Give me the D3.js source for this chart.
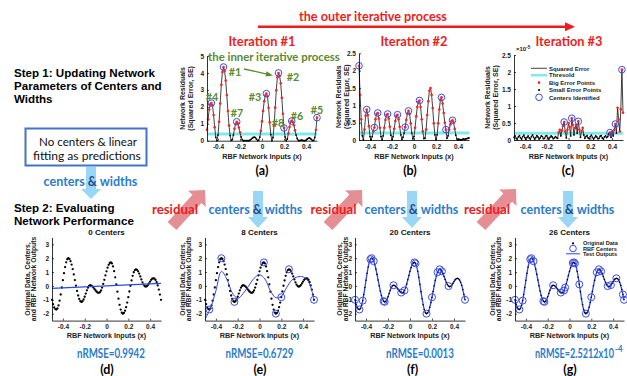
<!DOCTYPE html>
<html>
<head>
<meta charset="utf-8">
<script src="https://cdn.jsdelivr.net/npm/d3@7"></script>
<style>
  body { margin: 0; background: #fff; }
  svg { display: block; }
</style>
</head>
<body>
<svg id="fig" width="627" height="376"></svg>
<script>
// ---------- data ----------
// network inputs: x = -0.50 ... 0.50, step 0.01
const xGrid = d3.range(-50, 51).map(i => i / 100);

// original data (target outputs)
const originalData = [
  -1.00,-1.32,-1.55,-1.67,-1.70,-1.625,-1.406,-1.061,-0.619,-0.113,
  0.413,0.919,1.361,1.706,1.925,2.00,1.946,1.789,1.539,1.213,
  0.833,0.425,0.017,-0.363,-0.689,-0.939,-1.096,-1.15,-1.104,-0.974,
  -0.780,-0.55,-0.320,-0.126,0.004,0.05,0.029,-0.031,-0.120,-0.225,
  -0.330,-0.419,-0.479,-0.50,-0.455,-0.325,-0.120,0.143,0.444,0.756,
  1.057,1.320,1.525,1.655,1.70,1.625,1.406,1.061,0.619,0.113,
  -0.413,-0.919,-1.361,-1.706,-1.925,-2.00,-1.946,-1.786,-1.532,-1.20,
  -0.814,-0.40,0.014,0.40,0.732,0.986,1.146,1.20,1.162,1.054,
  0.888,0.684,0.467,0.263,0.096,-0.012,-0.05,-0.020,0.063,0.183,
  0.317,0.437,0.520,0.55,0.52,0.43,0.27,0.04,-0.26,-0.62,
  -1.00
];

// squared error, iteration #1 (linear fit, no centers)
const seIter1 = [
  0.64,1.26,1.84,2.15,2.22,2.09,1.51,0.79,0.20,0.00,
  0.33,1.12,2.20,3.30,4.05,4.35,4.12,3.55,2.70,1.75,
  0.90,0.30,0.02,0.06,0.34,0.70,0.99,1.12,1.02,0.78,
  0.48,0.22,0.06,0.00,0.01,0.01,0.01,0.00,0.00,0.03,
  0.08,0.14,0.19,0.21,0.18,0.09,0.01,0.03,0.21,0.59,
  1.14,1.76,2.33,2.66,2.78,2.61,1.94,1.09,0.36,0.01,
  0.19,0.90,1.95,2.98,3.75,4.00,3.82,3.39,2.53,1.59,
  0.75,0.22,0.00,0.10,0.42,0.81,1.12,1.16,1.10,0.91,
  0.61,0.33,0.13,0.02,0.00,0.02,0.03,0.02,0.01,0.00,
  0.03,0.09,0.14,0.16,0.13,0.07,0.01,0.02,0.19,0.63,
  1.36
];

// squared error, iteration #2 (8 centers)
const seIter2 = [
  2.14,1.30,0.60,0.12,0.00,0.30,0.70,0.88,0.72,0.40,
  0.10,0.00,0.10,0.25,0.36,0.60,0.75,0.78,0.62,0.35,
  0.10,0.00,0.12,0.35,0.58,0.72,0.75,0.62,0.38,0.14,
  0.01,0.10,0.32,0.55,0.70,0.73,0.60,0.38,0.15,0.02,
  0.08,0.20,0.37,0.58,0.76,0.84,0.75,0.48,0.20,0.03,
  0.10,0.35,0.68,0.95,1.10,1.14,0.95,0.60,0.25,0.04,
  0.05,0.30,0.72,1.12,1.42,1.50,1.30,0.92,0.48,0.15,
  0.01,0.15,0.48,0.88,1.15,1.23,1.05,0.78,0.50,0.30,
  0.05,0.12,0.30,0.45,0.54,0.57,0.50,0.32,0.14,0.03,
  0.00,0.02,0.01,0.00,0.02,0.03,0.02,0.03,0.04,0.05,
  0.06
];

// squared error, iteration #3 (20 centers), units of 1e-5
const seIter3 = [
  0.08,0.12,0.05,0.02,0.09,0.13,0.06,0.03,0.10,0.14,
  0.07,0.02,0.08,0.12,0.06,0.03,0.10,0.15,0.08,0.02,
  0.07,0.13,0.09,0.03,0.06,0.12,0.10,0.04,0.05,0.11,
  0.13,0.07,0.03,0.08,0.12,0.09,0.04,0.06,0.10,0.07,
  0.05,0.22,0.30,0.12,0.28,0.42,0.53,0.25,0.06,0.30,
  0.50,0.38,0.12,0.64,0.45,0.15,0.35,0.45,0.20,0.55,
  0.30,0.08,0.25,0.36,0.15,0.05,0.10,0.13,0.06,0.04,
  0.10,0.14,0.08,0.03,0.07,0.12,0.09,0.04,0.05,0.11,
  0.13,0.06,0.03,0.09,0.12,0.07,0.10,0.18,0.22,0.08,
  0.25,0.12,0.30,0.47,0.20,0.95,0.60,0.25,0.90,2.07,
  0.80
];

const thresholds = [0.4, 0.2, 0.2];

// centers picked in each outer iteration
const centersIter1 = [-0.35, 0.15, 0.04, -0.46, 0.50, 0.27, -0.23, 0.20];
const centerLabels1 = ["#1", "#2", "#3", "#4", "#5", "#6", "#7", "#8"];
const centersIter2 = [-0.50, -0.43, -0.36, -0.33, -0.24, -0.15, -0.08, -0.05, 0.05, 0.25, 0.29, 0.35];
const centersIter3 = [-0.04, 0.03, 0.09, 0.38, 0.43, 0.49];

// network outputs
const linearFitX = [-0.5, 0.5];
const linearFitY = [-0.17, 0.18];
const fit8X = d3.range(-10, 11).map(i => i / 20);
const fit8Y = [-2.4,-1.6,-0.35,1.05,0.5,-0.5,-0.9,-0.55,0.0,0.55,0.8,0.5,-0.35,-0.85,-0.75,-0.1,0.45,0.65,0.65,0.3,-1.0];

const nrmseLabels = ["nRMSE=0.9942", "nRMSE=0.6729", "nRMSE=0.0013"];
const panelTitles = ["0 Centers", "8 Centers", "20 Centers", "26 Centers"];
const xTicks = [-0.4, -0.2, 0, 0.2, 0.4];

// ---------- helpers ----------
const svg = d3.select("#fig");
svg.append("rect").attr("width", 627).attr("height", 376).attr("fill", "#fff");

const SANS = "'Liberation Sans', Arial, Helvetica, sans-serif";
const CAL = "Lato, 'Open Sans', sans-serif";
const RED = "#f21b1b", GREEN = "#5a8a2e", BLUE_T = "#2a7ccc", NAVY = "#1f4e8c";
const LINE_BLUE = "#2f47e6", CYAN = "#7eeaea";

function txt(g, x, y, s, o = {}) {
  const t = g.append("text").attr("x", x).attr("y", y).text(s)
    .attr("font-family", o.family || SANS)
    .attr("font-size", o.size || 10)
    .attr("font-weight", o.weight || "bold")
    .attr("fill", o.fill || "#000")
    .attr("text-anchor", o.anchor || "start");
  if (o.rotate) t.attr("transform", `rotate(${o.rotate},${x},${y})`);
  return t;
}

// text squeezed horizontally to a given width (narrow display face)
function txtFit(g, x, y, s, width, o = {}) {
  const t = txt(g, 0, 0, s, Object.assign({}, o, { anchor: "start" }));
  if (o.build) o.build(t);
  const nat = t.node().getComputedTextLength();
  const k = width / nat;
  const x0 = o.anchor === "middle" ? x - width / 2 : x;
  t.attr("transform", `translate(${x0},${y}) scale(${k},1)`);
  return t;
}

function blockArrow(g, x0, y0, x1, y1, sw, hw, hl, fill, op) {
  const L = Math.hypot(x1 - x0, y1 - y0);
  const a = Math.atan2(y1 - y0, x1 - x0) * 180 / Math.PI;
  const pts = [[0, -sw / 2], [L - hl, -sw / 2], [L - hl, -hw / 2], [L, 0], [L - hl, hw / 2], [L - hl, sw / 2], [0, sw / 2]];
  g.append("polygon")
    .attr("points", pts.map(p => p.join(",")).join(" "))
    .attr("transform", `translate(${x0},${y0}) rotate(${a})`)
    .attr("fill", fill).attr("opacity", op);
}

const idx = x => Math.round((x + 0.5) * 100);

function styleAxis(ax) {
  ax.select(".domain").attr("stroke", "#000").attr("stroke-width", 0.8);
  ax.selectAll(".tick line").attr("stroke", "#000").attr("stroke-width", 0.7);
  ax.selectAll(".tick text").attr("font-family", SANS).attr("font-size", 6.5)
    .attr("font-weight", "bold").attr("fill", "#222");
}

function axes(g, x, y, yTicks, yFmt) {
  const ax = g.append("g").attr("transform", `translate(0,${y.range()[0]})`)
    .call(d3.axisBottom(x).tickValues(xTicks).tickFormat(d => String(d)).tickSize(-2).tickSizeOuter(0).tickPadding(4));
  styleAxis(ax);
  const ay = g.append("g").attr("transform", `translate(${x.range()[0]},0)`)
    .call(d3.axisLeft(y).tickValues(yTicks).tickFormat(yFmt || (d => String(d))).tickSize(-2).tickSizeOuter(0).tickPadding(3));
  styleAxis(ay);
}

// ---------- top row: squared error of each iteration ----------
const topPanels = [
  { x0: 207, x1: 317, yTop: 56, yBot: 140.7, ymax: 5, ticks: [0, 1, 2, 3, 4, 5], se: seIter1, thr: thresholds[0], centers: centersIter1, tx: [185, 193] },
  { x0: 359, x1: 469, yTop: 53.3, yBot: 140, ymax: 2.5, ticks: [0, 0.5, 1, 1.5, 2, 2.5], se: seIter2, thr: thresholds[1], centers: centersIter2, tx: [341.5, 349] },
  { x0: 514, x1: 623, yTop: 55, yBot: 140, ymax: 2.5, ticks: [0, 0.5, 1, 1.5, 2, 2.5], se: seIter3, thr: thresholds[2], centers: centersIter3, tx: [490, 497.5] }
];
const topScales = [];

topPanels.forEach((p, k) => {
  const g = svg.append("g");
  const x = d3.scaleLinear().domain([-0.5, 0.5]).range([p.x0, p.x1]);
  const y = d3.scaleLinear().domain([0, p.ymax]).range([p.yBot, p.yTop]);
  topScales.push({ x, y });
  // threshold band
  g.append("line").attr("x1", x(-0.5)).attr("x2", x(0.5)).attr("y1", y(p.thr)).attr("y2", y(p.thr))
    .attr("stroke", CYAN).attr("stroke-width", 3);
  // squared error curve
  const pts = xGrid.map((xv, i) => [xv, p.se[i]]);
  g.append("path").datum(pts)
    .attr("d", d3.line().x(d => x(d[0])).y(d => y(d[1])))
    .attr("fill", "none").attr("stroke", "#111").attr("stroke-width", 0.8);
  g.selectAll("circle.pt").data(pts).join("circle")
    .attr("cx", d => x(d[0])).attr("cy", d => y(d[1]))
    .attr("r", d => d[1] > p.thr ? 1.3 : 0.9)
    .attr("fill", d => d[1] > p.thr ? "#ff1f1f" : "#000");
  // identified centers
  g.selectAll("circle.ctr").data(p.centers).join("circle")
    .attr("cx", c => x(c)).attr("cy", c => y(p.se[idx(c)]))
    .attr("r", 3.3).attr("fill", "none").attr("stroke", "#3a4cf0").attr("stroke-width", 1);
  axes(g, x, y, p.ticks);
  const ym = (p.yTop + p.yBot) / 2;
  txt(g, p.tx[0], ym, "Network Residuals", { size: 7, anchor: "middle", rotate: -90, fill: "#222" });
  txt(g, p.tx[1], ym, "(Squared Error, SE)", { size: 7, anchor: "middle", rotate: -90, fill: "#222" });
  txt(g, (p.x0 + p.x1) / 2, 159, "RBF Network Inputs (x)", { size: 7.2, anchor: "middle", fill: "#222" });
});

// exponent of panel (c)
{
  const g = svg.append("g");
  const t = txt(g, 516, 51, "×10", { size: 6, fill: "#222" });
  t.append("tspan").attr("dy", -2.5).attr("font-size", 4.5).text("-5");
}

// legend of panel (c)
{
  const g = svg.append("g");
  const lx = 531, tx = 549, rows = [68.3, 75.2, 82.6, 90, 97.3];
  g.append("line").attr("x1", lx).attr("x2", lx + 16).attr("y1", rows[0]).attr("y2", rows[0]).attr("stroke", "#111").attr("stroke-width", 0.8);
  g.append("line").attr("x1", lx).attr("x2", lx + 16).attr("y1", rows[1]).attr("y2", rows[1]).attr("stroke", CYAN).attr("stroke-width", 2.5);
  g.append("circle").attr("cx", lx + 8).attr("cy", rows[2]).attr("r", 1.3).attr("fill", "#ff1f1f");
  g.append("circle").attr("cx", lx + 8).attr("cy", rows[3]).attr("r", 1.1).attr("fill", "#000");
  g.append("circle").attr("cx", lx + 8).attr("cy", rows[4]).attr("r", 3.3).attr("fill", "none").attr("stroke", "#3a4cf0");
  ["Squared Error", "Thresold", "Big Error Points", "Small Error Points", "Centers Identified"].forEach((s, i) =>
    txt(g, tx, rows[i] + 2.2, s, { size: 6, fill: "#222" }));
}

// annotations of panel (a)
{
  const g = svg.append("g");
  txtFit(g, 208, 61, "the inner iterative process", 132, { family: CAL, size: 12, fill: GREEN });
  const lblPos = [[235, 75.8], [293, 81], [255, 101], [212, 101], [317, 114], [297, 120], [237, 117], [278, 127]];
  centerLabels1.forEach((s, i) => txtFit(g, lblPos[i][0], lblPos[i][1], s, 12.5, { family: CAL, size: 11.5, fill: GREEN, anchor: "middle" }));
  // arrow from #1 towards #2
  g.append("line").attr("x1", 244).attr("y1", 69).attr("x2", 268).attr("y2", 74.3)
    .attr("stroke", GREEN).attr("stroke-width", 1.3);
  g.append("polygon").attr("points", "273,75.5 266.5,71.3 265.5,76.6").attr("fill", GREEN);
}

// ---------- bottom row: network outputs ----------
const botPanels = [
  { x0: 52, x1: 161, centers: [] },
  { x0: 205, x1: 314, centers: centersIter1 },
  { x0: 355, x1: 465, centers: centersIter1.concat(centersIter2) },
  { x0: 515, x1: 624, centers: centersIter1.concat(centersIter2, centersIter3) }
];
const yTitleX = [[29.5, 35.5], [185, 191], [341.5, 347.5], [495, 501]];

botPanels.forEach((p, k) => {
  const g = svg.append("g");
  const x = d3.scaleLinear().domain([-0.5, 0.5]).range([p.x0, p.x1]);
  const y = d3.scaleLinear().domain([-2.5, 3.5]).range([320.6, 237.4]);
  const data = xGrid.map((xv, i) => [xv, originalData[i]]);
  const line = d3.line().x(d => x(d[0])).y(d => y(d[1]));
  if (k === 0) {
    g.selectAll("circle.pt").data(data).join("circle")
      .attr("cx", d => x(d[0])).attr("cy", d => y(d[1])).attr("r", 1.15).attr("fill", "#000");
    g.append("path").datum(linearFitX.map((v, i) => [v, linearFitY[i]])).attr("d", line)
      .attr("fill", "none").attr("stroke", LINE_BLUE).attr("stroke-width", 1.2);
  } else if (k === 1) {
    g.selectAll("circle.pt").data(data).join("circle")
      .attr("cx", d => x(d[0])).attr("cy", d => y(d[1])).attr("r", 1.15).attr("fill", "#000");
    g.append("path").datum(fit8X.map((v, i) => [v, fit8Y[i]]))
      .attr("d", line.curve(d3.curveCatmullRom))
      .attr("fill", "none").attr("stroke", LINE_BLUE).attr("stroke-width", 1);
  } else {
    g.append("path").datum(data).attr("d", line.curve(d3.curveMonotoneX))
      .attr("fill", "none").attr("stroke", LINE_BLUE).attr("stroke-width", 1.3);
    g.selectAll("circle.pt").data(data).join("circle")
      .attr("cx", d => x(d[0])).attr("cy", d => y(d[1])).attr("r", 0.8).attr("fill", "#000");
  }
  g.selectAll("circle.ctr").data(p.centers).join("circle")
    .attr("cx", c => x(c)).attr("cy", c => y(originalData[idx(c)]))
    .attr("r", 3.5).attr("fill", "none").attr("stroke", "#3a4cf0").attr("stroke-width", 1);
  axes(g, x, y, [-2, -1, 0, 1, 2, 3]);
  txt(g, yTitleX[k][0], 279, "Original Data, Centers,", { size: 6.8, anchor: "middle", rotate: -90, fill: "#222" });
  txt(g, yTitleX[k][1], 279, "and RBF Network Outputs", { size: 6.8, anchor: "middle", rotate: -90, fill: "#222" });
  txt(g, (p.x0 + p.x1) / 2, 338.3, "RBF Network Inputs (x)", { size: 7.2, anchor: "middle", fill: "#222" });
  txt(g, (p.x0 + p.x1) / 2, 234.7, panelTitles[k], { size: 8, anchor: "middle", fill: "#111" });
});

// legend of panel (g)
{
  const g = svg.append("g");
  const mx = 573, tx = 583, rows = [243.3, 248.5, 253.8];
  g.append("circle").attr("cx", mx).attr("cy", rows[0]).attr("r", 1.1).attr("fill", "#000");
  g.append("circle").attr("cx", mx).attr("cy", rows[1]).attr("r", 3.3).attr("fill", "none").attr("stroke", "#3a4cf0");
  g.append("line").attr("x1", mx - 7).attr("x2", mx + 7).attr("y1", rows[2]).attr("y2", rows[2]).attr("stroke", LINE_BLUE).attr("stroke-width", 1);
  ["Original Data", "RBF Centers", "Test Outputs"].forEach((s, i) => txt(g, tx, rows[i] + 2, s, { size: 5.6, fill: "#222" }));
}

// nRMSE values and panel letters
{
  const g = svg.append("g");
  const cx = [111, 259.5, 420];
  nrmseLabels.forEach((s, i) => txtFit(g, cx[i], 357.5, s, 68, { family: CAL, size: 13, fill: BLUE_T, anchor: "middle" }));
  txtFit(g, 535, 357.5, "nRMSE=2.5212x10", 79, { family: CAL, size: 13, fill: BLUE_T });
  txtFit(g, 615, 352, "-4", 7.5, { family: CAL, size: 8.5, fill: BLUE_T });
  ["(d)", "(e)", "(f)", "(g)"].forEach((s, i) => txt(g, [107, 260, 412.7, 570][i], 373.5, s, { family: CAL, size: 12.5, anchor: "middle" }));
  ["(a)", "(b)", "(c)"].forEach((s, i) => txt(g, [262, 410, 568][i], 175, s, { family: CAL, size: 12.5, anchor: "middle" }));
}

// ---------- process annotations ----------
{
  const g = svg.append("g");
  txtFit(g, 373, 21, "the outer iterative process", 148, { family: CAL, size: 13.5, fill: RED, anchor: "middle" });
  g.append("line").attr("x1", 258).attr("x2", 567).attr("y1", 26.8).attr("y2", 26.8).attr("stroke", RED).attr("stroke-width", 2.6);
  g.append("polygon").attr("points", "575,26.8 565,22.3 565,31.3").attr("fill", RED);
  [262, 414, 569].forEach((cx, i) => txtFit(g, cx, 45.5, "Iteration #" + (i + 1), 67, { family: CAL, size: 13.5, fill: RED, anchor: "middle" }));

  // step headings
  txt(g, 14, 77, "Step 1: Updating Network", { size: 11.6 });
  txt(g, 14, 89.8, "Parameters of Centers and", { size: 11.6 });
  txt(g, 14, 102.6, "Widths", { size: 11.6 });
  txt(g, 14, 212, "Step 2: Evaluating", { size: 11.6 });
  txt(g, 14, 224.8, "Network Performance", { size: 11.6 });

  // initial model box
  g.append("rect").attr("x", 25.5).attr("y", 128.5).attr("width", 121).attr("height", 37)
    .attr("fill", "#fff").attr("stroke", "#4472c4").attr("stroke-width", 2);
  txtFit(g, 39, 145.5, "No centers & linear", 98, { family: CAL, size: 12, weight: "normal", fill: "#111" });
  txtFit(g, 33, 160, "fitting as predictions", 108, { family: CAL, size: 12, weight: "normal", fill: "#111" });

  // blue down arrows carrying centers & widths
  const AB = "#9ad7f6";
  blockArrow(g, 91, 167, 91, 199, 10, 20, 10, AB, 1);
  [258, 412, 568].forEach(cx => blockArrow(g, cx, 191, cx, 228, 10, 20, 11, AB, 1));
  // pink arrows carrying the residual
  [[172, 226, 205, 190], [328, 226, 362, 190], [481, 226, 516, 189]].forEach(a =>
    blockArrow(g, a[0], a[1], a[2], a[3], 12, 24, 12, "#e07a80", 0.85));

  const cw = (cx, cy) => txtFit(g, cx, cy, "centers ", 94, {
    family: CAL, size: 13, fill: BLUE_T, anchor: "middle",
    build: t => { t.append("tspan").attr("fill", NAVY).text("&"); t.append("tspan").text(" widths"); }
  });
  cw(90.5, 185.5);
  [255.5, 411.5, 567.5].forEach(cx => cw(cx, 213.5));
  [175, 333.5, 487].forEach(cx => txtFit(g, cx, 213.5, "residual", 46, { family: CAL, size: 13, fill: RED, anchor: "middle" }));
}
</script>
</body>
</html>
